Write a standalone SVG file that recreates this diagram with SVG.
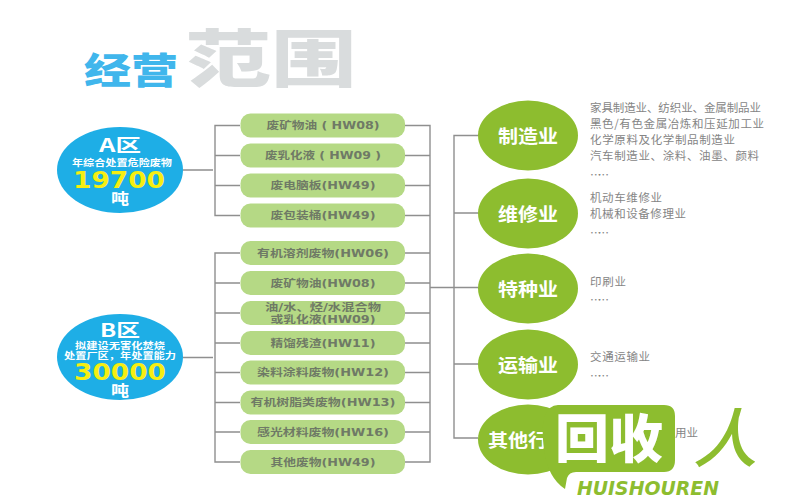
<svg xmlns="http://www.w3.org/2000/svg" width="800" height="500" viewBox="0 0 800 500">
<style>
text{font-family:"DejaVu Sans","Noto Sans CJK SC",sans-serif;text-anchor:middle}
.conn{fill:none;stroke:#8f8f8f;stroke-width:1.4}
.pill{fill:#b5d985}
.pt{font-size:10px;font-weight:700;fill:#6f7a66}
.area{fill:#1eaee6}
.ind{fill:#8dbd2f}
.it{font-size:18px;font-weight:700;fill:#fff;font-family:"Noto Sans CJK SC",sans-serif}
.w{fill:#fff;font-weight:700;font-family:"Noto Sans CJK SC","DejaVu Sans",sans-serif}
.y{fill:#f6ee12;font-weight:700;font-size:23px}
.d{font-size:11.5px;fill:#858585;text-anchor:start;font-family:"Noto Sans CJK SC",sans-serif}
</style>
<rect width="800" height="500" fill="#fff"/>
<g id="title">
<text x="131" y="84" textLength="94" lengthAdjust="spacingAndGlyphs" style="font-family:'Noto Sans CJK SC',sans-serif;font-size:36px;font-weight:900;fill:#40b6ec">经营</text>
<text x="271" y="82" textLength="171" lengthAdjust="spacingAndGlyphs" style="font-family:'Noto Sans CJK SC',sans-serif;font-size:62px;font-weight:900;fill:#d9dcdd">范围</text>
</g>
<g id="connectors" class="conn">
<path class="conn" d="M183 170H213M240 125.500H215V215.500H240M215 155.500H240M215 185.500H240"/>
<path class="conn" d="M183 357.500H213M240 253H215V462H240M215 283H240M215 313H240M215 343H240M215 372.500H240M215 402.500H240M215 432H240"/>
<path class="conn" d="M405 125.500H430V462H405M405 155.500H430M405 185.500H430M405 215.500H430M405 253H430M405 283H430M405 313H430M405 343H430M405 372.500H430M405 402.500H430M405 432H430"/>
<path class="conn" d="M430 287.500H478M478 135.500H454V438H478M454 213H478M454 364H478"/>
</g>
<g id="area-a">
<ellipse class="area" cx="120" cy="170" rx="63" ry="43"/>
<text class="w" x="120" y="152" font-size="18" textLength="42" lengthAdjust="spacingAndGlyphs">A区</text>
<text class="w" x="122" y="166" font-size="9" textLength="100" lengthAdjust="spacingAndGlyphs">年综合处置危险废物</text>
<text class="y" x="119" y="188" textLength="92" lengthAdjust="spacingAndGlyphs">19700</text>
<text class="w" x="120" y="204" font-size="15" textLength="18" lengthAdjust="spacingAndGlyphs">吨</text>
</g>
<g id="area-b">
<ellipse class="area" cx="120" cy="357" rx="63" ry="43"/>
<text class="w" x="120" y="337" font-size="18" textLength="40" lengthAdjust="spacingAndGlyphs">B区</text>
<text class="w" x="120" y="349" font-size="9" textLength="90" lengthAdjust="spacingAndGlyphs">拟建设无害化焚烧</text>
<text class="w" x="120" y="358.500" font-size="9" textLength="112" lengthAdjust="spacingAndGlyphs">处置厂区，年处置能力</text>
<text class="y" x="120" y="380" textLength="92" lengthAdjust="spacingAndGlyphs">30000</text>
<text class="w" x="120" y="396" font-size="15" textLength="18" lengthAdjust="spacingAndGlyphs">吨</text>
</g>
<g id="w1"><rect class="pill" x="240.500" y="113.500" width="164.500" height="24" rx="10"/><text class="pt" x="323" y="129" textLength="113" lengthAdjust="spacingAndGlyphs">废矿物油 ( HW08)</text></g>
<g id="w2"><rect class="pill" x="240.500" y="143.500" width="164.500" height="24" rx="10"/><text class="pt" x="323" y="159" textLength="116" lengthAdjust="spacingAndGlyphs">废乳化液 ( HW09 )</text></g>
<g id="w3"><rect class="pill" x="240.500" y="173.500" width="164.500" height="24" rx="10"/><text class="pt" x="323" y="189" textLength="105" lengthAdjust="spacingAndGlyphs">废电脑板(HW49)</text></g>
<g id="w4"><rect class="pill" x="240.500" y="203.500" width="164.500" height="24" rx="10"/><text class="pt" x="323" y="219" textLength="105" lengthAdjust="spacingAndGlyphs">废包装桶(HW49)</text></g>
<g id="w5"><rect class="pill" x="240.500" y="241" width="164.500" height="24" rx="10"/><text class="pt" x="323" y="256.500" textLength="132" lengthAdjust="spacingAndGlyphs">有机溶剂废物(HW06)</text></g>
<g id="w6"><rect class="pill" x="240.500" y="271" width="164.500" height="24" rx="10"/><text class="pt" x="323" y="286.500" textLength="105" lengthAdjust="spacingAndGlyphs">废矿物油(HW08)</text></g>
<g id="w7"><rect class="pill" x="240.500" y="301" width="164.500" height="24" rx="10"/><text class="pt" x="323" y="311" textLength="116" lengthAdjust="spacingAndGlyphs">油/水、烃/水混合物</text><text class="pt" x="323" y="322.500" textLength="105" lengthAdjust="spacingAndGlyphs">或乳化液(HW09)</text></g>
<g id="w8"><rect class="pill" x="240.500" y="331" width="164.500" height="24" rx="10"/><text class="pt" x="323" y="346.500" textLength="105" lengthAdjust="spacingAndGlyphs">精馏残渣(HW11)</text></g>
<g id="w9"><rect class="pill" x="240.500" y="360.500" width="164.500" height="24" rx="10"/><text class="pt" x="323" y="376" textLength="132" lengthAdjust="spacingAndGlyphs">染料涂料废物(HW12)</text></g>
<g id="w10"><rect class="pill" x="240.500" y="390.500" width="164.500" height="24" rx="10"/><text class="pt" x="323" y="406" textLength="145" lengthAdjust="spacingAndGlyphs">有机树脂类废物(HW13)</text></g>
<g id="w11"><rect class="pill" x="240.500" y="420" width="164.500" height="24" rx="10"/><text class="pt" x="323" y="435.500" textLength="132" lengthAdjust="spacingAndGlyphs">感光材料废物(HW16)</text></g>
<g id="w12"><rect class="pill" x="240.500" y="450" width="164.500" height="24" rx="10"/><text class="pt" x="323" y="465.500" textLength="105" lengthAdjust="spacingAndGlyphs">其他废物(HW49)</text></g>
<g id="ind1"><ellipse class="ind" cx="528" cy="135.500" rx="50" ry="35"/><text class="it" x="528" y="142.500" textLength="60" lengthAdjust="spacingAndGlyphs">制造业</text></g>
<g id="ind2"><ellipse class="ind" cx="528" cy="213.500" rx="50" ry="35"/><text class="it" x="528" y="220.500" textLength="60" lengthAdjust="spacingAndGlyphs">维修业</text></g>
<g id="ind3"><ellipse class="ind" cx="528" cy="288.500" rx="50" ry="35"/><text class="it" x="528" y="295.500" textLength="60" lengthAdjust="spacingAndGlyphs">特种业</text></g>
<g id="ind4"><ellipse class="ind" cx="528" cy="364.500" rx="50" ry="35"/><text class="it" x="528" y="371.500" textLength="60" lengthAdjust="spacingAndGlyphs">运输业</text></g>
<g id="ind5"><ellipse class="ind" cx="528" cy="439.500" rx="50" ry="35"/><text class="it" x="518" y="446.500" textLength="60" lengthAdjust="spacingAndGlyphs">其他行</text></g>
<g id="details">
<text class="d" x="590" y="112" textLength="171">家具制造业、纺织业、金属制品业</text>
<text class="d" x="590" y="128" textLength="174">黑色/有色金属冶炼和压延加工业</text>
<text class="d" x="590" y="144" textLength="145">化学原料及化学制品制造业</text>
<text class="d" x="590" y="160" textLength="169">汽车制造业、涂料、油墨、颜料</text>
<text class="d" x="590" y="179" textLength="19">……</text>
<text class="d" x="590" y="202" textLength="72">机动车维修业</text>
<text class="d" x="590" y="218" textLength="96">机械和设备修理业</text>
<text class="d" x="590" y="237" textLength="19">……</text>
<text class="d" x="590" y="285.500" textLength="36">印刷业</text>
<text class="d" x="590" y="304" textLength="19">……</text>
<text class="d" x="590" y="361" textLength="60">交通运输业</text>
<text class="d" x="590" y="380" textLength="19">……</text>
<text class="d" x="675" y="437" textLength="23">用业</text>
</g>
<g id="logo">
<path d="M558 405H664Q675 405 675 416V460Q675 472 664 472H576Q569 472 567 478L565 489Q548 478 544 450Q541 425 545 416Q549 405 558 405Z" fill="#8dbd2f"/>
<text x="609" y="458" textLength="108" lengthAdjust="spacingAndGlyphs" style="font-family:'Noto Sans CJK SC',sans-serif;font-size:52px;font-weight:900;fill:#fff">回收</text>
<text x="648" y="495" style="font-family:'DejaVu Sans',sans-serif;font-size:19px;font-weight:700;font-style:italic;fill:#8dbd2f" textLength="142" lengthAdjust="spacingAndGlyphs">HUISHOUREN</text>
<text x="725" y="462" style="font-family:'Noto Sans CJK SC',sans-serif;font-size:64px;font-weight:500;font-style:italic;fill:#8dbd2f">人</text>
</g>
</svg>
